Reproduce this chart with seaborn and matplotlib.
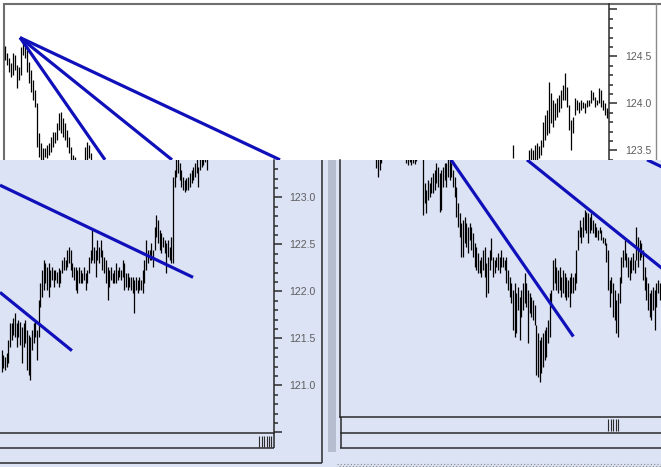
import numpy as np
import matplotlib
matplotlib.use("Agg")
import matplotlib.pyplot as plt
from matplotlib.ticker import MultipleLocator, FixedLocator, FixedFormatter
from matplotlib.patches import Rectangle
import seaborn as sns

# ---------------- price data: bar highs / lows ----------------
# upper chart, early session
a_left_high = [124.61, 124.54, 124.48, 124.43, 124.54, 124.51, 124.41, 124.39, 124.60, 124.67,
               124.64, 124.57, 124.44, 124.36, 124.25, 124.14, 124.00, 123.69, 123.58, 123.53,
               123.53, 123.56, 123.58, 123.64, 123.70, 123.70, 123.79, 123.90, 123.91, 123.84,
               123.79, 123.72, 123.64, 123.54, 123.45, 123.43, 123.38, 123.36, 123.37, 123.39,
               123.54, 123.59, 123.56, 123.47]
a_left_low = [124.46, 124.41, 124.33, 124.28, 124.30, 124.36, 124.16, 124.25, 124.30, 124.51,
              124.48, 124.33, 124.22, 124.12, 124.04, 123.96, 123.54, 123.43, 123.36, 123.38,
              123.43, 123.42, 123.45, 123.48, 123.54, 123.58, 123.61, 123.72, 123.69, 123.64,
              123.61, 123.54, 123.47, 123.38, 123.34, 123.31, 123.27, 123.24, 123.25, 123.29,
              123.34, 123.36, 123.42, 123.34]

# upper chart, latest bars (bar number of the first one)
a_right_start = 254
a_right_high = [123.56, 123.34, 123.31, 123.29, 123.34, 123.38, 123.37, 123.39, 123.50, 123.53,
                123.50, 123.56, 123.58, 123.55, 123.61, 123.80, 123.88, 123.93, 124.23, 124.11,
                124.04, 124.00, 124.06, 124.09, 124.14, 124.20, 124.32, 124.17, 123.98, 123.82,
                123.86, 124.06, 124.04, 124.01, 124.04, 124.01, 124.00, 124.04, 124.04, 124.14,
                124.12, 124.07, 124.04, 124.16, 124.14, 124.04, 124.00, 123.95, 123.93]
a_right_low = [123.42, 123.19, 123.13, 123.10, 123.16, 123.21, 123.19, 123.24, 123.34, 123.37,
               123.38, 123.38, 123.40, 123.42, 123.45, 123.54, 123.61, 123.66, 123.69, 123.79,
               123.75, 123.82, 123.86, 123.91, 123.95, 124.04, 124.04, 123.96, 123.72, 123.50,
               123.69, 123.88, 123.93, 123.90, 123.93, 123.95, 123.90, 123.96, 123.97, 124.00,
               124.04, 123.96, 123.98, 124.00, 123.96, 123.93, 123.88, 123.84, 123.86]

# lower-left chart
b_high = [121.38, 121.32, 121.30, 121.34, 121.48, 121.66, 121.66, 121.72, 121.77, 121.66,
          121.70, 121.67, 121.62, 121.66, 121.70, 121.59, 121.54, 121.51, 121.59, 121.66,
          121.70, 121.59, 121.91, 122.09, 122.23, 122.33, 122.30, 122.26, 122.30, 122.23,
          122.26, 122.23, 122.23, 122.21, 122.25, 122.23, 122.33, 122.37, 122.33, 122.44,
          122.47, 122.44, 122.30, 122.26, 122.26, 122.23, 122.26, 122.23, 122.20, 122.26,
          122.20, 122.23, 122.37, 122.44, 122.65, 122.47, 122.44, 122.55, 122.47, 122.55,
          122.44, 122.37, 122.33, 122.26, 122.23, 122.26, 122.20, 122.23, 122.30, 122.23,
          122.26, 122.23, 122.33, 122.30, 122.20, 122.20, 122.15, 122.15, 122.15, 122.12,
          122.15, 122.12, 122.15, 122.12, 122.23, 122.33, 122.55, 122.44, 122.44, 122.51,
          122.44, 122.69, 122.81, 122.76, 122.65, 122.62, 122.58, 122.55, 122.51, 122.55,
          122.47, 122.58, 123.22, 123.29, 123.45, 123.45, 123.37, 123.29, 123.22, 123.19,
          123.21, 123.22, 123.26, 123.29, 123.32, 123.37, 123.42, 123.32, 123.44, 123.46,
          123.48, 123.50, 123.49]
b_low = [121.14, 121.19, 121.16, 121.20, 121.24, 121.41, 121.48, 121.54, 121.51, 121.41,
         121.51, 121.43, 121.24, 121.41, 121.45, 121.16, 121.11, 121.06, 121.38, 121.45,
         121.51, 121.27, 121.51, 121.83, 121.94, 122.01, 122.09, 122.01, 121.94, 122.05,
         122.12, 122.05, 122.12, 122.09, 122.05, 122.09, 122.20, 122.23, 122.23, 122.26,
         122.30, 122.23, 122.15, 122.12, 122.01, 121.98, 122.09, 122.09, 122.09, 122.12,
         122.01, 122.09, 122.20, 122.30, 122.33, 122.30, 122.15, 122.33, 122.30, 122.37,
         122.23, 122.20, 122.09, 121.91, 122.05, 122.12, 122.09, 122.09, 122.09, 122.12,
         122.15, 122.12, 122.15, 122.01, 122.05, 122.01, 122.05, 122.01, 121.98, 121.77,
         122.01, 121.98, 122.01, 122.01, 121.98, 122.09, 122.23, 122.30, 122.33, 122.33,
         122.26, 122.44, 122.58, 122.51, 122.44, 122.41, 122.47, 122.41, 122.20, 122.37,
         122.33, 122.30, 122.30, 123.11, 123.22, 123.26, 123.19, 123.11, 123.08, 123.06,
         123.08, 123.08, 123.11, 123.15, 123.19, 123.22, 123.26, 123.11, 123.29, 123.32,
         123.34, 123.38, 123.29]

# lower-right chart
c_high = [123.48, 123.45, 123.50, 123.50, 123.61, 123.66, 123.70, 123.67, 123.63, 123.65,
          123.72, 123.74, 123.70, 123.66, 123.63, 123.61, 123.59, 123.57, 123.50, 123.48,
          123.53, 123.50, 123.48, 123.50, 123.53, 123.56, 123.58, 123.56, 123.45, 123.15,
          123.08, 123.19, 123.15, 123.22, 123.26, 123.29, 123.37, 123.32, 123.26, 123.29,
          123.32, 123.37, 123.37, 123.45, 123.42, 123.37, 123.29, 123.22, 123.11, 122.94,
          122.83, 122.73, 122.76, 122.79, 122.73, 122.69, 122.73, 122.69, 122.62, 122.51,
          122.47, 122.41, 122.33, 122.37, 122.44, 122.47, 122.30, 122.37, 122.44, 122.57,
          122.37, 122.33, 122.37, 122.41, 122.37, 122.44, 122.37, 122.33, 122.37, 122.23,
          122.15, 122.09, 122.01, 122.09, 121.98, 122.05, 121.94, 122.01, 122.09, 122.20,
          122.09, 122.01, 121.98, 121.94, 121.91, 121.86, 121.64, 121.56, 121.48, 121.51,
          121.56, 121.59, 121.62, 121.70, 121.98, 122.01, 122.33, 122.36, 122.26, 122.23,
          122.26, 122.15, 122.23, 122.20, 122.15, 122.12, 122.15, 122.20, 122.15, 122.20,
          122.44, 122.65, 122.76, 122.69, 122.79, 122.87, 122.84, 122.83, 122.79, 122.83,
          122.76, 122.73, 122.69, 122.65, 122.69, 122.65, 122.58, 122.57, 122.51, 122.44,
          122.12, 122.15, 122.09, 122.01, 121.91, 121.98, 122.15, 122.37, 122.44, 122.55,
          122.41, 122.37, 122.33, 122.37, 122.41, 122.33, 122.69, 122.58, 122.55, 122.51,
          122.44, 122.26, 122.15, 122.09, 121.98, 122.01, 122.05, 122.01, 122.09, 122.12,
          122.09]
c_low = [123.31, 123.22, 123.29, 123.37, 123.44, 123.48, 123.50, 123.46, 123.45, 123.48,
         123.53, 123.55, 123.50, 123.47, 123.45, 123.44, 123.43, 123.42, 123.37, 123.34,
         123.38, 123.34, 123.37, 123.36, 123.39, 123.42, 123.44, 123.42, 122.81, 122.94,
         122.83, 122.97, 123.00, 123.05, 123.05, 123.08, 123.15, 123.11, 122.84, 122.87,
         123.11, 123.19, 123.11, 123.22, 123.19, 123.22, 123.11, 123.00, 122.79, 122.69,
         122.58, 122.37, 122.37, 122.51, 122.47, 122.41, 122.55, 122.44, 122.37, 122.26,
         122.23, 122.20, 122.20, 122.15, 122.23, 122.15, 121.94, 121.98, 122.23, 122.33,
         122.15, 122.20, 122.26, 122.23, 122.20, 122.26, 122.26, 122.23, 122.09, 122.01,
         121.94, 121.88, 121.59, 121.51, 121.56, 121.80, 121.48, 121.73, 121.80, 121.88,
         121.83, 121.45, 121.77, 121.73, 121.70, 121.64, 121.11, 121.09, 121.04, 121.13,
         121.20, 121.27, 121.30, 121.45, 121.51, 121.83, 122.01, 122.09, 122.01, 121.98,
         122.01, 121.94, 121.98, 121.94, 121.91, 121.94, 121.83, 121.98, 121.98, 122.01,
         122.09, 122.44, 122.58, 122.51, 122.58, 122.65, 122.62, 122.51, 122.62, 122.65,
         122.62, 122.58, 122.58, 122.55, 122.62, 122.55, 122.51, 122.49, 122.31, 122.01,
         121.83, 121.98, 121.73, 121.70, 121.56, 121.51, 121.88, 122.09, 122.26, 122.33,
         122.26, 122.15, 122.12, 122.20, 122.23, 122.20, 122.33, 122.26, 122.33, 122.37,
         122.12, 122.01, 121.91, 121.80, 121.73, 121.70, 121.80, 121.59, 121.83, 121.98,
         121.91]

# trendlines: (bar0, price0, bar1, price1)
a_fan = [(7.5, 124.70, 50.0, 123.40),
         (7.5, 124.70, 83.5, 123.40),
         (7.5, 124.70, 137.5, 123.40)]
b_trends = [(-1.01, 123.13, 113.9, 122.15),
            (-1.01, 121.99, 41.8, 121.37)]
c_trends = [(44.8, 123.40, 118.2, 121.52),
            (90.4, 123.40, 194.2, 121.92),
            (162.4, 123.40, 194.2, 123.13)]

# price-axis ticks
a_tick_values = [123.5, 124.0, 124.5, 125.0]
a_tick_labels = ["123.5", "124.0", "124.5", ""]
b_tick_values = [120.5, 121.0, 121.5, 122.0, 122.5, 123.0]
b_tick_labels = ["", "121.0", "121.5", "122.0", "122.5", "123.0"]

# ---------------- styling ----------------
sns.set_style("white")
plt.rcParams["font.family"] = ["Liberation Sans", "DejaVu Sans"]

PANEL_BLUE = "#dce3f5"
STRIP = "#b5bdcf"
FRAME = "#2b2b2b"
BAR = "#000000"
TREND = "#1010bb"
LABEL = "#5e5e5e"

W, H = 661.0, 467.0
fig = plt.figure(figsize=(W / 100, H / 100), dpi=100)
fig.patch.set_facecolor("white")


def px_axes(x0, y0, x1, y1, z):
    ax = fig.add_axes([x0 / W, 1 - y1 / H, (x1 - x0) / W, (y1 - y0) / H])
    ax.set_zorder(z)
    ax.set_facecolor("none")
    return ax


def frame_layer(z):
    ax = px_axes(0, 0, W, H, z)
    ax.set_xlim(0, W)
    ax.set_ylim(H, 0)
    ax.axis("off")
    return ax


def seg(ax, xs, ys, color=FRAME, lw=1.1, **kw):
    ax.plot(xs, ys, color=color, lw=lw, solid_capstyle="butt", **kw)


def draw_bars(ax, t, high, low):
    ax.vlines(t, low, high, colors=BAR, lw=0.9)


def draw_trends(ax, segments):
    for x0, p0, x1, p1 in segments:
        sns.lineplot(x=[x0, x1], y=[p0, p1], ax=ax, color=TREND, lw=2.3,
                     sort=False, estimator=None, solid_capstyle="butt")


def price_axis(ax, side, values, labels, pad):
    ax.yaxis.set_major_locator(FixedLocator(values))
    ax.yaxis.set_major_formatter(FixedFormatter(labels))
    ax.yaxis.set_minor_locator(MultipleLocator(0.1))
    if side == "right":
        ax.yaxis.tick_right()
    ax.tick_params(axis="y", which="major", length=5.8, width=1.1, direction="out",
                   pad=pad, labelsize=7.6, labelcolor=LABEL, color=FRAME)
    ax.tick_params(axis="y", which="minor", length=2.9, width=1.1, direction="out",
                   color=FRAME)
    ax.tick_params(axis="x", which="both", length=0, labelbottom=False)
    ax.set_xticks([])
    ax.set_xlabel("")
    ax.set_ylabel("")


def style_spines(ax, visible):
    for name, sp in ax.spines.items():
        sp.set_visible(name in visible)
        sp.set_color(FRAME)
        sp.set_linewidth(1.1)


# ---------- upper window (white) ----------
top = frame_layer(0)
seg(top, [3, W], [3.5, 3.5], color="#6e6e6e", lw=1.5)
seg(top, [3.5, 3.5], [3, 160], color="#6e6e6e", lw=1.5)
seg(top, [655.5, 655.5], [3, 160], color="#8c8c8c", lw=1.0)

axA = px_axes(4, 4, 609, 160, 1)
draw_bars(axA, np.arange(len(a_left_high)), a_left_high, a_left_low)
draw_bars(axA, a_right_start + np.arange(len(a_right_high)), a_right_high, a_right_low)
draw_trends(axA, a_fan)
axA.set_xlim(-0.5, 302)
axA.set_ylim(123.398, 125.057)
price_axis(axA, "right", a_tick_values, a_tick_labels, pad=5.8)
style_spines(axA, {"right"})

# ---------- lower windows (light blue) ----------
low = frame_layer(2)
low.add_patch(Rectangle((0, 160), W, H - 160, color=PANEL_BLUE, lw=0))
low.add_patch(Rectangle((328, 160), 8, 292, color=STRIP, lw=0))
# left window frame and time strip
seg(low, [321.5, 321.5], [160, 462.5])
seg(low, [0, 321.5], [462.5, 462.5])
seg(low, [0, 273.5], [448, 448])
seg(low, [273.5, 273.5], [433, 448])
for x in [259, 261.5, 264, 266.5, 269, 271]:
    seg(low, [x, x], [436, 447], lw=0.8)
# right window frame and time strip
seg(low, [340.5, 340.5], [417, 447.5])
seg(low, [340, W], [432.5, 432.5])
seg(low, [340, W], [447.5, 447.5])
for x in [608, 610.5, 613, 615.5, 618]:
    seg(low, [x, x], [419, 431], lw=0.8)
seg(low, [337, W], [463.5, 463.5], color="#8a8a8a", lw=0.8, ls=(0, (1, 2)))
seg(low, [338.5, W], [465.5, 465.5], color="#8a8a8a", lw=0.8, ls=(0, (1, 2)))

axB = px_axes(0, 160, 273.5, 433, 3)
draw_bars(axB, np.arange(len(b_high)), b_high, b_low)
draw_trends(axB, b_trends)
axB.set_xlim(-1.012, 161.79)
axB.set_ylim(120.494, 123.398)
price_axis(axB, "right", b_tick_values, b_tick_labels, pad=5.4)
style_spines(axB, {"right", "bottom"})

axC = px_axes(340, 160, 661, 417, 3)
draw_bars(axC, np.arange(len(c_high)), c_high, c_low)
draw_trends(axC, c_trends)
axC.set_xlim(-21.79, 170.77)
axC.set_ylim(120.664, 123.398)
axC.set_yticks([])
axC.set_xticks([])
axC.set_xlabel("")
axC.set_ylabel("")
style_spines(axC, {"left", "bottom"})

for ax in (axA, axB, axC):
    leg = ax.get_legend()
    if leg is not None:
        leg.remove()

fig.savefig("out.png", dpi=100, facecolor="white")
